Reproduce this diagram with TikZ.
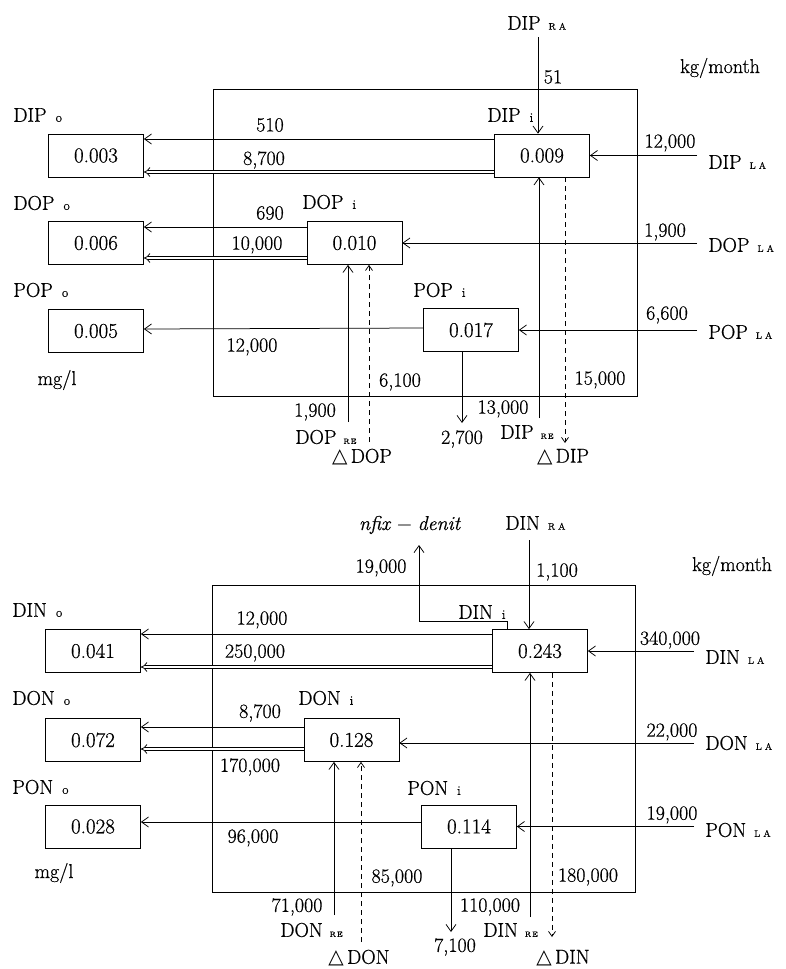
\documentclass[tikz,border=0pt]{standalone}
\usepackage{fontspec}
\setmainfont{Latin Modern Roman}[FakeBold=0.6]
\usetikzlibrary{arrows.meta, calc}
\newfontfamily\symfont{DejaVu Sans}

\newcommand{\lblfont}{\fontsize{20}{24}\selectfont}
\newcommand{\valfont}{\fontsize{21}{25}\selectfont}
% small indices written on the base line
\newcommand{\subi}[1]{\hspace{9pt}{\fontsize{13}{13}\selectfont #1}}
\newcommand{\subs}[1]{\hspace{8pt}{\fontsize{9.5}{9.5}\selectfont #1}}
\newcommand{\subre}{\hspace{7pt}{\fontsize{7.5}{7.5}\selectfont R\kern1pt E}}
\newcommand{\delt}{{\symfont △}\,}

\begin{document}
\begin{tikzpicture}[
  x=1pt, y=-1pt,
  line width=0.75pt,
  pool/.style={draw, minimum width=95pt, minimum height=43pt, inner sep=0pt, font=\valfont},
  flux/.style={font=\lblfont, inner sep=0pt},
  spec/.style={font=\lblfont, inner sep=0pt, anchor=west},
  inlet/.style={font=\lblfont, inner sep=0pt, inner xsep=11pt, anchor=west},
  flow/.style={-{Straight Barb[length=7pt, width=10pt]}},
  dflow/.style={double, double distance=2.5pt, -{Implies}},
  chgflow/.style={dash pattern=on 5pt off 4pt, -{Straight Barb[length=5pt, width=7pt]}},
]

\useasboundingbox (0,0) rectangle (785,969);

% =============================================
% Phosphorus
% =============================================

% Lake frame
\draw[line width=0.6pt] (213,89) rectangle (637,396);

% Pools
\node[pool] (dipo) at (96,155.5) {0.003};
\node[pool] (dopo) at (96,243) {0.006};
\node[pool] (popo) at (96,331) {0.005};
\node[pool] (dipi) at (542,155.5) {0.009};
\node[pool] (dopi) at (354.5,243) {0.010};
\node[pool] (popi) at (471,330) {0.017};

% Pool names
\node[spec] (dipolbl) at (13,115) {DIP\subi{o}};
\node[spec] (dopolbl) at (13,203) {DOP\subi{o}};
\node[spec] (popolbl) at (13,290) {POP\subi{o}};
\node[spec] (dipilbl) at (487,115) {DIP\subi{i}};
\node[spec] (dopilbl) at (302,202) {DOP\subi{i}};
\node[spec] (popilbl) at (413,290) {POP\subi{i}};

% Inputs from the right
\node[inlet] (dipla) at (697,162) {DIP\subs{L\kern3pt A}};
\node[inlet] (dopla) at (697,245) {DOP\subs{L\kern3pt A}};
\node[inlet] (popla) at (697,332) {POP\subs{L\kern3pt A}};

\draw[flow] (dipla.west |- dipi.east) -- (dipi.east);
\draw[flow] (dopla.west |- dopi.east) -- (dopi.east);
\draw[flow] (popla.west |- popi.east) -- (popi.east);

% Outflows to the left
\draw[flow] ([yshift=16.5pt]dipi.west) -- ([yshift=16.5pt]dipo.east);
\draw[dflow] ([yshift=-16.5pt]dipi.west) -- ([yshift=-16.5pt]dipo.east);
\draw[flow] ([yshift=16pt]dopi.west) -- ([yshift=16pt]dopo.east);
\draw[dflow] ([yshift=-15pt]dopi.west) -- ([yshift=-15pt]dopo.east);
\draw[flow] ([yshift=2pt]popi.west) -- ([yshift=2pt]popo.east);

% Rain input
\node[spec] (dipra) at (507,23) {DIP\subs{R\kern3pt A}};
\coordinate (dipratop) at (538,37);
\draw[flow] (dipratop) -- (dipratop |- dipi.north);

% Vertical fluxes
\coordinate (dopreend) at (348,422);
\draw[flow] (dopreend) -- (dopreend |- dopi.south);
\coordinate (ddopend) at (369,442);
\draw[chgflow] (ddopend) -- (ddopend |- dopi.south);
\coordinate (popsedend) at (462,423);
\draw[flow] (popsedend |- popi.south) -- (popsedend);
\coordinate (dipreend) at (539,418);
\draw[flow] (dipreend) -- (dipreend |- dipi.south);
\coordinate (ddipend) at (565,443);
\draw[chgflow] (ddipend |- dipi.south) -- (ddipend);

\node[spec] (doprelbl) at (295,437) {DOP\subre};
\node[spec] (diprelbl) at (500,432) {DIP\subre};
\node[flux] (ddoplbl) at (362,457) {\delt DOP};
\node[flux] (ddiplbl) at (563,457) {\delt DIP};

% Flux values
\node[flux] (fa1) at (553,77) {51};
\node[flux] (fa2) at (270,125) {510};
\node[flux] (fa3) at (264,160) {8,700};
\node[flux] (fa4) at (270,213) {690};
\node[flux] (fa5) at (257,245) {10,000};
\node[flux] (fa6) at (670,143) {12,000};
\node[flux] (fa7) at (665,232) {1,900};
\node[flux] (fa8) at (667,315) {6,600};
\node[flux] (fa9) at (252,347) {12,000};
\node[flux] (fa10) at (400,382) {6,100};
\node[flux] (fa11) at (600,380) {15,000};
\node[flux] (fa12) at (315,412) {1,900};
\node[flux] (fa13) at (462,439) {2,700};
\node[flux] (fa14) at (503,409) {13,000};

% Units
\node[flux] (unita1) at (720,68) {kg/month};
\node[flux] (unita2) at (57,380) {mg/l};

% =============================================
% Nitrogen
% =============================================

% Lake frame
\draw[line width=0.6pt] (212,585) rectangle (635,892);

% Pools
\node[pool] (dino) at (93,651) {0.041};
\node[pool] (dono) at (93,740) {0.072};
\node[pool] (pono) at (93,826.5) {0.028};
\node[pool] (dini) at (540,651) {0.243};
\node[pool] (doni) at (351.5,740) {0.128};
\node[pool] (poni) at (469,826.5) {0.114};

% Pool names
\node[spec] (dinolbl) at (12,610) {DIN\subi{o}};
\node[spec] (donolbl) at (12,698) {DON\subi{o}};
\node[spec] (ponolbl) at (12,787) {PON\subi{o}};
\node[spec] (dinilbl) at (458,612) {DIN\subi{i}};
\node[spec] (donilbl) at (298,698) {DON\subi{i}};
\node[spec] (ponilbl) at (407,788) {PON\subi{i}};

% Inputs from the right
\node[inlet] (dinla) at (694,657) {DIN\subs{L\kern3pt A}};
\node[inlet] (donla) at (694,743) {DON\subs{L\kern3pt A}};
\node[inlet] (ponla) at (694,830) {PON\subs{L\kern3pt A}};

\draw[flow] (dinla.west |- dini.east) -- (dini.east);
\draw[flow] ([yshift=-3pt]donla.west |- doni.east) -- ([yshift=-3pt]doni.east);
\draw[flow] (ponla.west |- poni.east) -- (poni.east);

% Outflows to the left
\draw[flow] ([yshift=17pt]dini.west) -- ([yshift=17pt]dino.east);
\draw[dflow] ([yshift=-16pt]dini.west) -- ([yshift=-16pt]dino.east);
\draw[flow] ([yshift=13pt]doni.west) -- ([yshift=13pt]dono.east);
\draw[dflow] ([yshift=-9pt]doni.west) -- ([yshift=-9pt]dono.east);
\draw[flow] ([yshift=4.5pt]poni.west) -- ([yshift=4.5pt]pono.east);

% Rain input and fixation minus denitrification
\node[spec] (dinra) at (505,523) {DIN\subs{R\kern3pt A}};
\coordinate (dinratop) at (529,540);
\draw[flow] (dinratop) -- (dinratop |- dini.north);

\node[flux] (nfixlbl) at (410,525) {\textit{nfix} − \textit{denit}};
\coordinate (nfixend) at (419,545);
\draw[flow] ([xshift=-33pt]dini.north) -- ++(0,-8) -| (nfixend);

% Vertical fluxes
\coordinate (donreend) at (334,915);
\draw[flow] (donreend) -- (donreend |- doni.south);
\coordinate (ddonend) at (361,942);
\draw[chgflow] (ddonend) -- (ddonend |- doni.south);
\coordinate (ponsedend) at (451,932);
\draw[flow] (ponsedend |- poni.south) -- (ponsedend);
\coordinate (dinreend) at (530,917);
\draw[flow] (dinreend) -- (dinreend |- dini.south);
\coordinate (ddinend) at (552,937);
\draw[chgflow] (ddinend |- dini.south) -- (ddinend);

\node[spec] (donrelbl) at (280,930) {DON\subre};
\node[spec] (dinrelbl) at (483,930) {DIN\subre};
\node[flux] (ddonlbl) at (359,958) {\delt DON};
\node[flux] (ddinlbl) at (563,958) {\delt DIN};

% Flux values
\node[flux] (fb1) at (381,568) {19,000};
\node[flux] (fb2) at (557,572) {1,100};
\node[flux] (fb3) at (262,620) {12,000};
\node[flux] (fb4) at (255,653) {250,000};
\node[flux] (fb5) at (670,640) {340,000};
\node[flux] (fb6) at (260,713) {8,700};
\node[flux] (fb7) at (250,767) {170,000};
\node[flux] (fb8) at (672,732) {22,000};
\node[flux] (fb9) at (253,838) {96,000};
\node[flux] (fb10) at (672,815) {19,000};
\node[flux] (fb11) at (397,878) {85,000};
\node[flux] (fb12) at (588,877) {180,000};
\node[flux] (fb13) at (297,907) {71,000};
\node[flux] (fb14) at (490,907) {110,000};
\node[flux] (fb15) at (455,947) {7,100};

% Units
\node[flux] (unitb1) at (732,566) {kg/month};
\node[flux] (unitb2) at (54,873) {mg/l};

\end{tikzpicture}
\end{document}
